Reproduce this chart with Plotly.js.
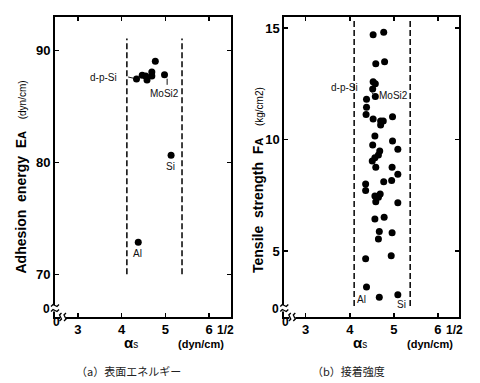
<!DOCTYPE html>
<html>
<head>
<meta charset="utf-8">
<script src="https://cdn.plot.ly/plotly-3.0.1.min.js"></script>
<style>html,body{margin:0;padding:0;background:#fff;width:480px;height:383px;overflow:hidden;}#chart{position:absolute;left:0;top:0;width:480px;height:383px;overflow:hidden;}</style>
</head>
<body>
<div id="chart"></div>
<script>
// ---- data (a) surface energy ----
const energyAlpha = [4.34, 4.47, 4.55, 4.58, 4.69, 4.69, 4.77, 4.98, 5.13, 4.38];
const energyEA    = [87.47, 87.80, 87.74, 87.38, 88.10, 87.74, 89.05, 87.85, 80.64, 72.86];
const energyBounds = [4.12, 5.38];
const energyBoundY = [70.0, 91.1];
const energyTicks = [70, 80, 90];

// ---- data (b) tensile strength ----
const tensileAlpha = [4.53, 4.77, 4.59, 4.79, 4.53, 4.58, 4.52, 4.58, 4.38, 4.38,
                      4.37, 4.53, 4.70, 4.76, 4.70, 4.97, 4.57, 4.97, 4.52, 5.09,
                      4.68, 4.65, 4.57, 4.51, 4.59, 4.96, 5.09, 4.77, 4.95, 4.36,
                      4.36, 4.69, 4.57, 4.65, 4.59, 5.09, 4.57, 4.78, 4.67, 4.96,
                      4.65, 4.36, 4.94, 4.38, 4.67, 5.09];
const tensileFA    = [14.71, 14.82, 13.41, 13.50, 12.60, 12.51, 12.27, 11.93, 11.81, 11.45,
                      11.13, 10.93, 10.84, 10.84, 10.66, 11.03, 10.16, 9.94, 9.76, 9.57,
                      9.49, 9.31, 9.19, 9.04, 8.76, 8.76, 8.44, 8.11, 8.16, 8.01,
                      7.71, 7.56, 7.47, 7.41, 7.21, 7.16, 6.44, 6.51, 5.87, 5.82,
                      5.54, 4.65, 4.79, 3.38, 2.92, 3.04];
const tensileBounds = [4.10, 5.37];
const tensileBoundY = [2.53, 15.35];
const tensileTicks = [5, 10, 15];

const alphaTicks = [3, 4, 5, 6];

const W = 480, H = 383;
const px = v => v / W;
const py = v => 1 - v / H;
const FONT = 'Liberation Sans, Arial, sans-serif';

const traces = [];
energyBounds.forEach(b => traces.push({x:[b,b], y:energyBoundY, mode:'lines', xaxis:'x', yaxis:'y',
  line:{color:'#111', width:1.6, dash:'6px,3px'}, hoverinfo:'skip', showlegend:false}));
tensileBounds.forEach(b => traces.push({x:[b,b], y:tensileBoundY, mode:'lines', xaxis:'x2', yaxis:'y2',
  line:{color:'#111', width:1.6, dash:'6px,3px'}, hoverinfo:'skip', showlegend:false}));
traces.push({x:energyAlpha, y:energyEA, mode:'markers', xaxis:'x', yaxis:'y',
  marker:{color:'#000', size:7}, showlegend:false});
traces.push({x:tensileAlpha, y:tensileFA, mode:'markers', xaxis:'x2', yaxis:'y2',
  marker:{color:'#000', size:7}, showlegend:false});

const xCommon = {
  showline:true, linecolor:'#000', linewidth:2, mirror:'ticks', ticks:'inside', ticklen:4,
  tickwidth:1.5, tickcolor:'#000', showgrid:false, zeroline:false,
  tickvals: alphaTicks, ticktext: alphaTicks.map(String),
  tickfont:{family:FONT, size:13, color:'#000', weight:'bold'}
};
const yCommon = {
  showline:true, linecolor:'#000', linewidth:2, mirror:'ticks', ticks:'inside', ticklen:4,
  tickwidth:1.5, tickcolor:'#000', showgrid:false, zeroline:false,
  tickfont:{family:FONT, size:13, color:'#000', weight:'bold'}
};

const yDom = [py(316.7), py(17.3)];
const layout = {
  width:W, height:H, autosize:false, margin:{l:0,r:0,t:0,b:0,pad:0,autoexpand:false},
  paper_bgcolor:'#fff', plot_bgcolor:'#fff', showlegend:false,
  xaxis: Object.assign({}, xCommon, {domain:[px(55), px(231)], range:[2.478, 6.499], anchor:'y'}),
  yaxis: Object.assign({}, yCommon, {domain:yDom, range:[66.21, 92.99], anchor:'x',
    tickvals:energyTicks, ticktext:energyTicks.map(String)}),
  xaxis2: Object.assign({}, xCommon, {domain:[px(284.3), px(459)], range:[2.516, 6.477], anchor:'y2'}),
  yaxis2: Object.assign({}, yCommon, {domain:yDom, range:[2.05, 15.49], anchor:'x2',
    tickvals:tensileTicks, ticktext:tensileTicks.map(String)}),
  annotations: [],
  shapes: []
};

const ann = (o) => layout.annotations.push(Object.assign({showarrow:false, xanchor:'center', yanchor:'middle',
  font:{family:FONT, size:10, color:'#111'}}, o));

// point labels (a)
ann({xref:'x', yref:'y', x:3.575, y:87.65, text:'d-p-Si'});
ann({xref:'x', yref:'y', x:4.97, y:86.19, text:'MoSi2'});
ann({xref:'x', yref:'y', x:5.11, y:79.62, text:'Si'});
ann({xref:'x', yref:'y', x:4.37, y:71.90, text:'Al'});
layout.shapes.push({type:'line', xref:'x', yref:'y', x0:4.15, x1:4.26, y0:87.65, y1:87.55, line:{color:'#111', width:1}});
layout.shapes.push({type:'line', xref:'x', yref:'y', x0:5.04, x1:5.04, y0:87.5, y1:86.95, line:{color:'#111', width:1}});
// point labels (b)
ann({xref:'x2', yref:'y2', x:3.87, y:12.32, text:'d-p-Si'});
ann({xref:'x2', yref:'y2', x:5.00, y:12.0, text:'MoSi2'});
ann({xref:'x2', yref:'y2', x:4.27, y:2.84, text:'Al'});
ann({xref:'x2', yref:'y2', x:5.18, y:2.58, text:'Si'});
layout.shapes.push({type:'line', xref:'x2', yref:'y2', x0:4.50, x1:4.54, y0:12.12, y1:12.02, line:{color:'#111', width:1}});

const pth = (pts) => 'M ' + pts.map(p => px(p[0]) + ',' + py(p[1])).join(' L ');

function panelExtras(x0, yTitleX, yTitleY, yTitle) {
  ann({xref:'paper', yref:'paper', x:px(x0-9), y:py(309), text:'0', font:{family:FONT, size:12, color:'#000', weight:'bold'}});
  ann({xref:'paper', yref:'paper', x:px(x0+1.5), y:py(322), text:'0', font:{family:FONT, size:12, color:'#000', weight:'bold'}});
  ann({xref:'paper', yref:'paper', x:px(x0+76), y:py(342), text:'<b>α</b><span style="font-size:10px">s</span>',
       font:{family:FONT, size:15, color:'#000'}});
  ann({xref:'paper', yref:'paper', x:px(x0+146), y:py(344), text:'(dyn/cm)',
       font:{family:FONT, size:11, color:'#000', weight:'bold'}});
  ann({xref:'paper', yref:'paper', x:px(x0+170), y:py(330), text:'1/2',
       font:{family:FONT, size:12, color:'#000', weight:'bold'}});
  ann({xref:'paper', yref:'paper', x:px(yTitleX), y:py(yTitleY), textangle:-90,
       text:yTitle, font:{family:FONT, size:14, color:'#000'}});
  layout.shapes.push({type:'rect', xref:'paper', yref:'paper', x0:px(x0-3), x1:px(x0+3), y0:py(311.5), y1:py(305),
    fillcolor:'#fff', line:{width:0}, layer:'above'});
  layout.shapes.push({type:'rect', xref:'paper', yref:'paper', x0:px(x0+5), x1:px(x0+11), y0:py(320), y1:py(314),
    fillcolor:'#fff', line:{width:0}, layer:'above'});
  [305.5, 310.5].forEach(yy => {
    layout.shapes.push({type:'path', xref:'paper', yref:'paper', layer:'above', line:{color:'#000', width:1.3},
      path: pth([[x0-4,yy+1],[x0-2,yy-1],[x0,yy],[x0+2,yy+1],[x0+4,yy-1]])});
  });
  [x0+5.5, x0+10].forEach(xx => {
    layout.shapes.push({type:'path', xref:'paper', yref:'paper', layer:'above', line:{color:'#000', width:1.3},
      path: pth([[xx-1,321],[xx+1,319],[xx,317],[xx-1,315],[xx+1,313]])});
  });
}

panelExtras(55, 20, 177.5,
  '<b>Adhesion  energy  E</b><span style="font-size:11px"><b>A</b></span>   <span style="font-size:10px">(dyn/cm)</span>');
panelExtras(284.3, 258, 180,
  '<b>Tensile  strength  F</b><span style="font-size:11px"><b>A</b></span>   <span style="font-size:10px">(kg/cm2)</span>');

const CJK = 'Noto Sans CJK JP, sans-serif';
ann({xref:'paper', yref:'paper', x:px(128), y:py(371), text:'（a）表面エネルギー', font:{family:CJK, size:11, color:'#222'}});
ann({xref:'paper', yref:'paper', x:px(348), y:py(371), text:'（b）接着強度', font:{family:CJK, size:11, color:'#222'}});

Plotly.newPlot('chart', traces, layout, {staticPlot:true, displayModeBar:false});
</script>
</body>
</html>
